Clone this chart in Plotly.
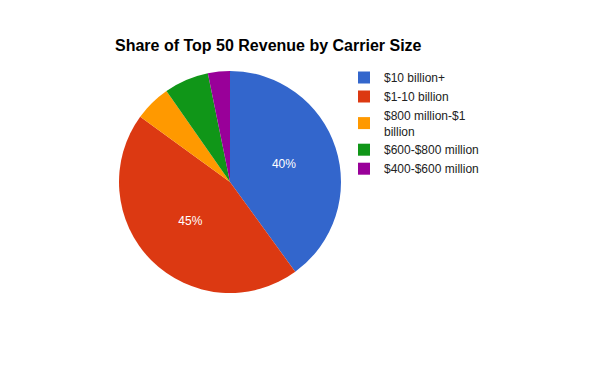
import plotly.graph_objects as go

categories = ["$10 billion+", "$1-10 billion", "$800 million-$1<br>billion",
              "$600-$800 million", "$400-$600 million"]
shares = [40, 45, 5.3, 6.5, 3.2]
colors = ["#3366cc", "#dc3912", "#ff9900", "#109618", "#990099"]

total = sum(shares)
slice_text = [f"{round(v / total * 100)}%" if v / total >= 0.1 else "" for v in shares]

FONT = "Liberation Sans, Arial, sans-serif"
W, H = 600, 371
OFF = 8  # page body margin offset

cx, cy, r = 230 - OFF, 182 - OFF, 111

fig = go.Figure(go.Pie(
    labels=categories,
    values=shares,
    text=slice_text,
    textinfo="text",
    textposition="inside",
    insidetextfont=dict(family=FONT, size=12, color="white"),
    marker=dict(colors=colors, line=dict(width=0)),
    sort=False,
    direction="clockwise",
    rotation=0,
    hoverinfo="label+percent",
    domain=dict(x=[(cx - r) / W, (cx + r) / W],
                y=[1 - (cy + r) / H, 1 - (cy - r) / H]),
))

fig.update_layout(
    width=W, height=H,
    margin=dict(l=0, r=0, t=0, b=0),
    paper_bgcolor="white",
    plot_bgcolor="white",
    font=dict(family=FONT, size=12, color="#222222"),
    title=dict(text="<b>Share of Top 50 Revenue by Carrier Size</b>",
               font=dict(family=FONT, size=16, color="black"),
               x=(115 - OFF) / W, xanchor="left", y=1 - (45 - OFF) / H, yanchor="middle"),
    legend=dict(x=(344 - OFF) / W, xanchor="left", y=1 - (63 - OFF) / H, yanchor="top",
                font=dict(family=FONT, size=12, color="#222222"),
                bgcolor="rgba(0,0,0,0)", tracegroupgap=0),
)

fig.write_html("out.html")
